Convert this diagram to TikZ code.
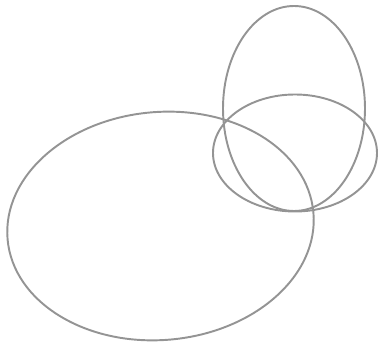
\documentclass[tikz,border=0pt]{standalone}
\usepackage{tikz}

\tikzset{outline/.style={draw=black!42, line width=1.1pt}}

\begin{document}
\begin{tikzpicture}[x=0.02cm,y=-0.02cm]
  \useasboundingbox (0,0) rectangle (379,344);
  \coordinate (big) at (160.5,226);
  \coordinate (tall) at (294,108.5);
  \coordinate (wide) at (295,153);
  \draw[outline,rotate around={5:(big)}] (big) ellipse [x radius=153.5, y radius=114];
  \draw[outline] (tall) ellipse [x radius=71, y radius=102.5];
  \draw[outline] (wide) ellipse [x radius=82, y radius=58.5];
\end{tikzpicture}
\end{document}
